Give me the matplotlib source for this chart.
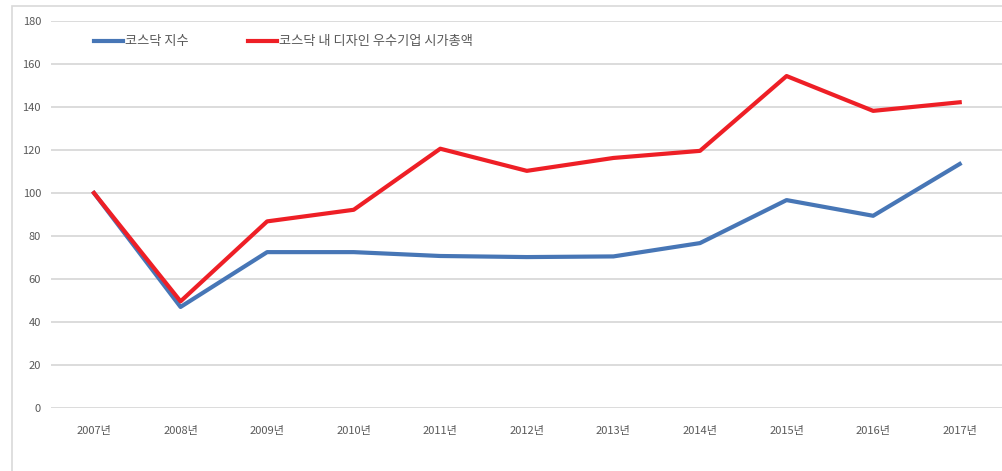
import matplotlib.pyplot as plt
from matplotlib.patches import Rectangle

plt.rcParams['font.family'] = ['Noto Sans CJK KR', 'DejaVu Sans']

years = ["2007년", "2008년", "2009년", "2010년", "2011년", "2012년",
         "2013년", "2014년", "2015년", "2016년", "2017년"]
kosdaq = [100, 47, 72.5, 72.5, 70.7, 70.2, 70.5, 76.7, 96.7, 89.4, 113.5]
design = [100, 49.6, 86.8, 92.2, 120.6, 110.3, 116.3, 119.6, 154.4, 138.2, 142.2]
y_ticks = list(range(0, 181, 20))

fig = plt.figure(figsize=(10.03, 4.71), dpi=100)
ax = fig.add_axes([50.7 / 1003, 63 / 471, 1 - 50.7 / 1003, 387 / 471])

# outer chart frame (cropped Excel chart)
fig.add_artist(Rectangle((12 / 1003, -0.1), 1.2, 1 - 6 / 471 + 0.1,
                         transform=fig.transFigure, fill=False,
                         edgecolor='#d9d9d9', linewidth=1.2, zorder=0))

x = list(range(len(years)))
ax.plot(x, kosdaq, color='#4776b6', linewidth=3, label='코스닥 지수',
        solid_joinstyle='round', zorder=3)
ax.plot(x, design, color='#ee1f26', linewidth=3,
        label='코스닥 내 디자인 우수기업 시가총액', solid_joinstyle='round', zorder=3)

ax.set_xlim(-0.5, len(years) - 0.5)
ax.set_ylim(0, 180)
ax.set_yticks(y_ticks)
ax.set_xticks(x)
ax.set_xticklabels(years)
ax.tick_params(length=0, labelsize=8, colors='#595959')
ax.tick_params(axis='y', pad=7)
ax.tick_params(axis='x', pad=13)
ax.grid(axis='y', color='#d9d9d9', linewidth=1.3)
ax.set_axisbelow(True)
for s in ax.spines.values():
    s.set_visible(False)
ax.patch.set_alpha(0)

ax.legend(loc='center left', bbox_to_anchor=(94 / 1003, 1 - 42 / 471),
          bbox_transform=fig.transFigure, ncol=2, frameon=False,
          fontsize=9.5, labelcolor='#595959', handlelength=2.2,
          handletextpad=0.15, columnspacing=4.5, borderpad=0,
          borderaxespad=0)

fig.savefig("out.png", dpi=100)
